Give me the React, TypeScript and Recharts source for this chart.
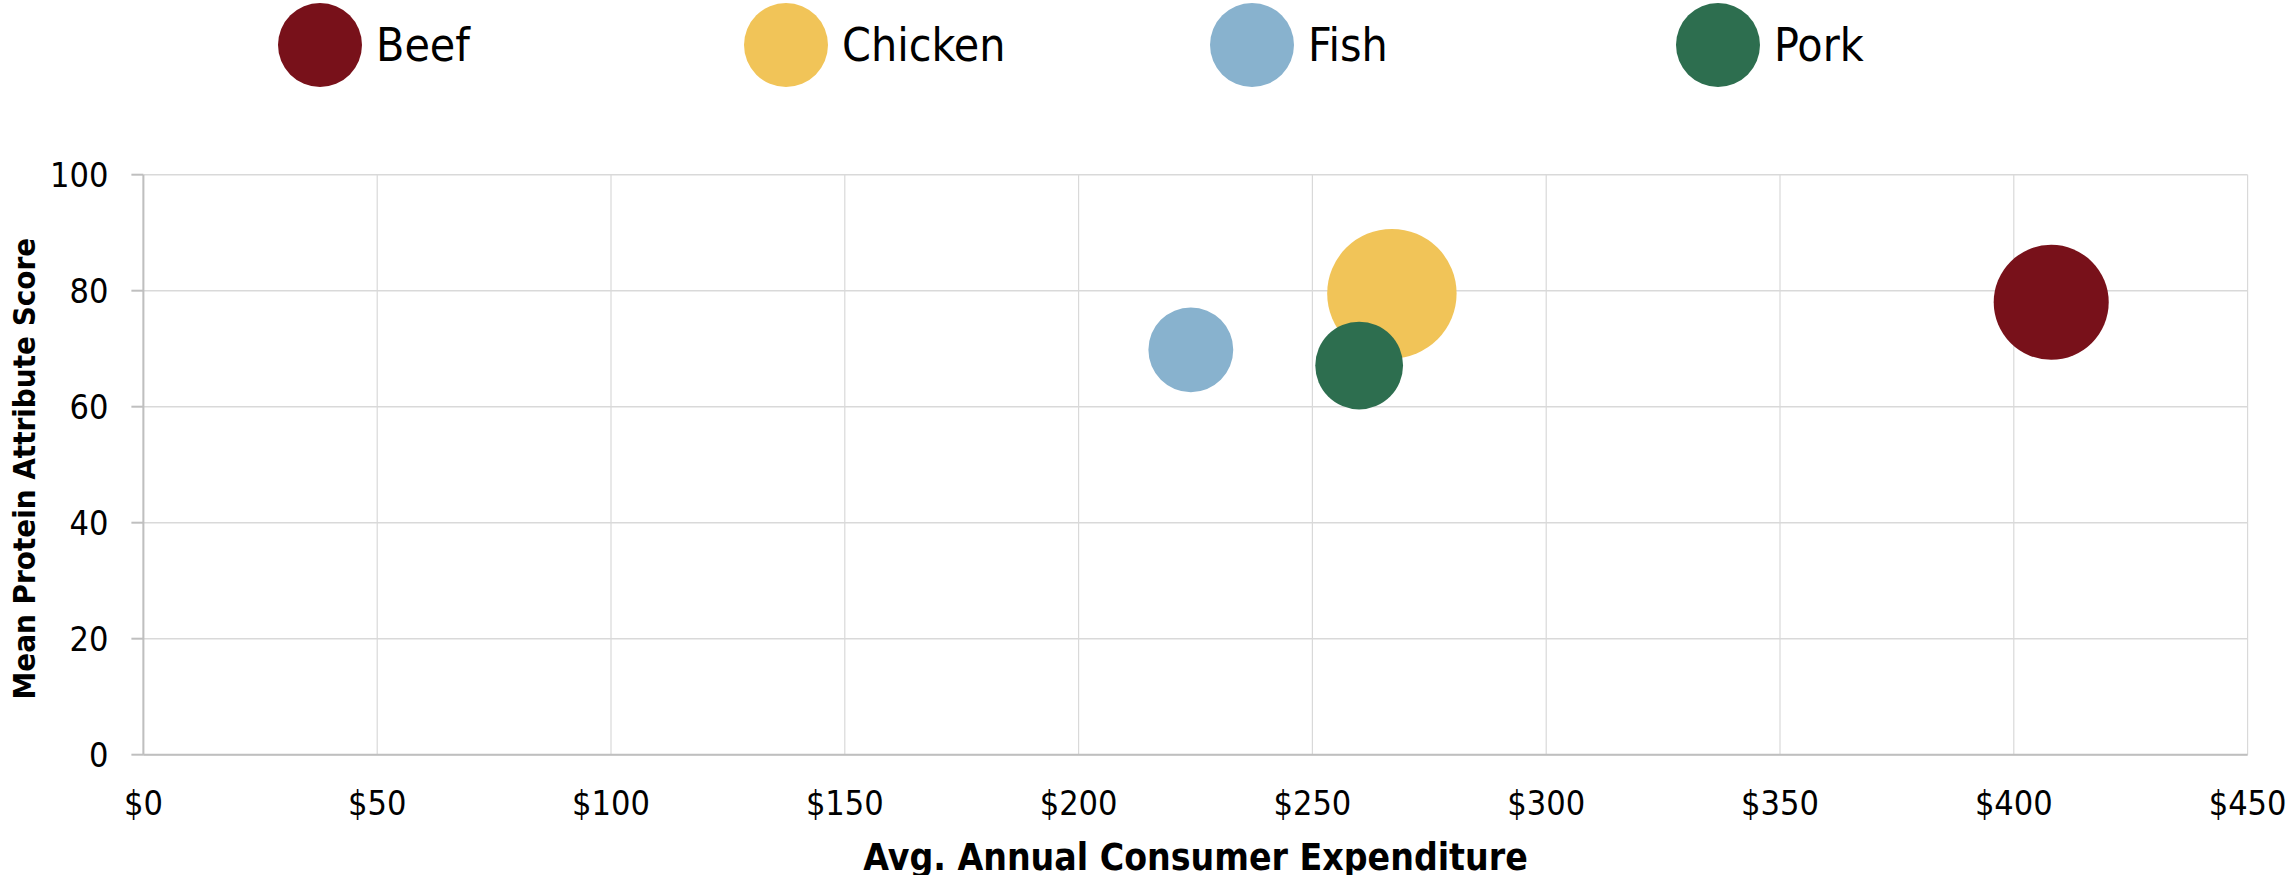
import React from 'react';
import {
  ScatterChart,
  Scatter,
  XAxis,
  YAxis,
  ZAxis,
  CartesianGrid,
  Legend,
} from 'recharts';

// ---- Data ----
const categories = ['Beef', 'Chicken', 'Fish', 'Pork'];
const expenditure = [408, 267, 224, 260];
const proteinScore = [78, 79.5, 69.8, 67.1];
const bubbleSize = [79, 100, 43, 46];
const seriesColors = ['#78111A', '#F1C458', '#88B2CE', '#2D6E4F'];
const xTicks = [0, 50, 100, 150, 200, 250, 300, 350, 400, 450];
const yTicks = [0, 20, 40, 60, 80, 100];
const xTitle = 'Avg. Annual Consumer Expenditure';
const yTitle = 'Mean Protein Attribute Score';

const FONT = "'DejaVu Sans Condensed', 'DejaVu Sans', sans-serif";
const MAX_R = 64.7;
const LEGEND_H = 90;

const seriesData = categories.map((name, i) => ({
  name,
  color: seriesColors[i],
  points: [{ x: expenditure[i], y: proteinScore[i], z: bubbleSize[i] }],
}));

const LegendContent = (props: any) => {
  const payload = props.payload || [];
  return (
    <div
      style={{
        display: 'flex',
        paddingLeft: 278,
        height: LEGEND_H,
        boxSizing: 'border-box',
        paddingTop: 3,
        fontFamily: FONT,
      }}
    >
      {payload.map((p: any) => (
        <div
          key={p.value}
          style={{ width: 466, display: 'flex', alignItems: 'center', height: 84 }}
        >
          <div
            style={{
              width: 84,
              height: 84,
              borderRadius: '50%',
              background: p.color,
              flex: '0 0 auto',
            }}
          />
          <span style={{ marginLeft: 14, fontSize: 46, color: '#000', lineHeight: 1 }}>
            {p.value}
          </span>
        </div>
      ))}
    </div>
  );
};

const YTitle = (props: any) => {
  const vb = props.viewBox || { x: 0, y: 0, width: 0, height: 0 };
  const cx = 24;
  const cy = vb.y + vb.height / 2 + 4;
  return (
    <text
      x={cx}
      y={cy}
      transform={`rotate(-90, ${cx}, ${cy})`}
      textAnchor="middle"
      dominantBaseline="central"
      fontFamily={FONT}
      fontWeight="bold"
      fontSize={31}
      fill="#000"
    >
      {yTitle}
    </text>
  );
};

export default function App() {
  return (
    <div style={{ position: 'absolute', left: 0, top: 0, width: 2290, height: 875, background: '#fff' }}>
      <ScatterChart
        width={2290}
        height={875}
        margin={{ top: 174.7 - LEGEND_H, right: 42.4, bottom: 0, left: 0 }}
        style={{ fontFamily: FONT }}
      >
        <CartesianGrid horizontal={true} vertical={false} stroke="#D9D9D9" strokeWidth={1.6} />
        <CartesianGrid horizontal={false} vertical={true} stroke="#D9D9D9" strokeWidth={1.2} />
        <XAxis
          type="number"
          dataKey="x"
          domain={[0, 450]}
          ticks={xTicks}
          interval={0}
          tickFormatter={(v: number) => `$${v}`}
          height={120.3}
          tickLine={false}
          tickSize={0}
          tickMargin={36}
          axisLine={{ stroke: '#BFBFBF', strokeWidth: 2 }}
          tick={{ fontSize: 34, fill: '#000', fontFamily: FONT }}
          label={{
            value: xTitle,
            position: 'insideBottom',
            offset: 5,
            style: { fontSize: 37, fontWeight: 'bold', fill: '#000', fontFamily: FONT },
          }}
        />
        <YAxis
          type="number"
          dataKey="y"
          domain={[0, 100]}
          ticks={yTicks}
          interval={0}
          width={143.4}
          tickSize={12}
          tickMargin={23}
          tickLine={{ stroke: '#BFBFBF', strokeWidth: 2 }}
          axisLine={{ stroke: '#BFBFBF', strokeWidth: 2 }}
          tick={{ fontSize: 34, fill: '#000', fontFamily: FONT }}
          label={<YTitle />}
        />
        <ZAxis type="number" dataKey="z" domain={[0, 100]} range={[0, Math.PI * MAX_R * MAX_R]} />
        <Legend
          verticalAlign="top"
          align="left"
          layout="horizontal"
          content={<LegendContent />}
          wrapperStyle={{ top: 0, left: 0, width: 2290, height: LEGEND_H }}
        />
        {seriesData.map((s) => (
          <Scatter
            key={s.name}
            name={s.name}
            data={s.points}
            fill={s.color}
            isAnimationActive={false}
          />
        ))}
      </ScatterChart>
    </div>
  );
}
